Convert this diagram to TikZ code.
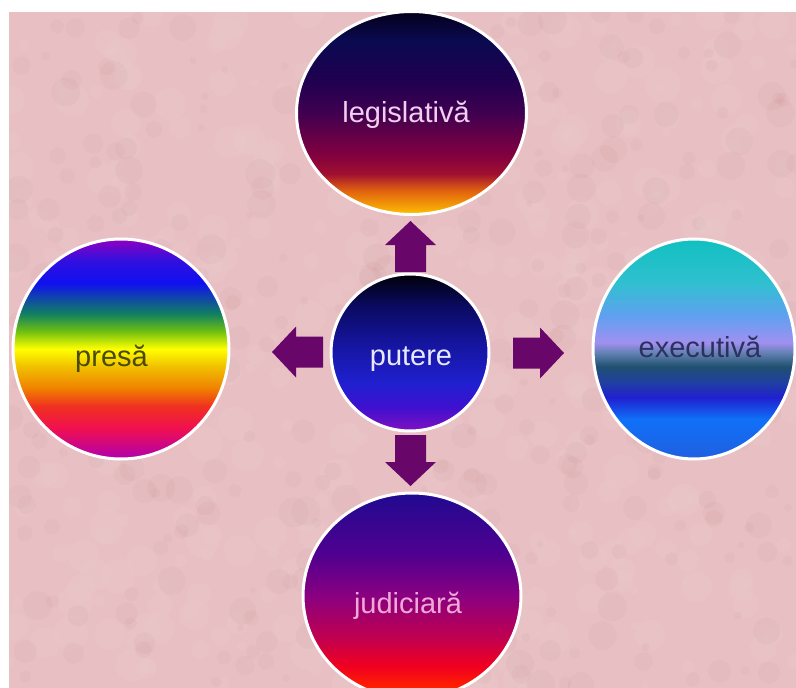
\documentclass[tikz,border=0pt]{standalone}
\usepackage{fontspec}
\setmainfont{Liberation Sans}
\usetikzlibrary{shapes.geometric,calc}
\definecolor{bgpink}{RGB}{232,192,195}
\definecolor{arrowc}{RGB}{104,6,106}
% legislativa
\definecolor{lg1}{RGB}{255,192,0}
\definecolor{lg2}{RGB}{224,96,16}
\definecolor{lg3}{RGB}{160,16,48}
\definecolor{lg4}{RGB}{128,0,64}
\definecolor{lg5}{RGB}{64,0,80}
\definecolor{lg6}{RGB}{32,0,80}
\definecolor{lg7}{RGB}{10,10,80}
\definecolor{lg8}{RGB}{5,0,26}
% presa
\definecolor{pr1}{RGB}{176,0,176}
\definecolor{pr2}{RGB}{240,16,80}
\definecolor{pr3}{RGB}{240,48,32}
\definecolor{pr4}{RGB}{240,128,0}
\definecolor{pr5}{RGB}{240,192,0}
\definecolor{pr6}{RGB}{255,255,0}
\definecolor{pr7}{RGB}{112,192,16}
\definecolor{pr8}{RGB}{16,128,96}
\definecolor{pr9}{RGB}{16,16,240}
\definecolor{pr10}{RGB}{48,16,224}
\definecolor{pr11}{RGB}{144,0,192}
% executiva
\definecolor{ex1}{RGB}{32,96,224}
\definecolor{ex2}{RGB}{16,112,248}
\definecolor{ex3}{RGB}{32,32,208}
\definecolor{ex4}{RGB}{32,64,160}
\definecolor{ex5}{RGB}{32,80,112}
\definecolor{ex6}{RGB}{96,128,176}
\definecolor{ex7}{RGB}{160,144,240}
\definecolor{ex8}{RGB}{96,160,240}
\definecolor{ex9}{RGB}{48,192,208}
\definecolor{ex10}{RGB}{16,192,192}
% putere
\definecolor{pu1}{RGB}{128,16,192}
\definecolor{pu2}{RGB}{64,16,208}
\definecolor{pu3}{RGB}{32,32,208}
\definecolor{pu4}{RGB}{21,21,160}
\definecolor{pu5}{RGB}{10,10,96}
\definecolor{pu6}{RGB}{0,0,8}
% judiciara
\definecolor{ju1}{RGB}{255,96,0}
\definecolor{ju2}{RGB}{255,32,0}
\definecolor{ju3}{RGB}{240,0,32}
\definecolor{ju4}{RGB}{192,0,80}
\definecolor{ju5}{RGB}{138,0,128}
\definecolor{ju6}{RGB}{80,0,144}
\definecolor{ju7}{RGB}{32,10,144}
% label colours
\definecolor{tlegc}{RGB}{240,208,240}
\definecolor{tprec}{RGB}{74,74,0}
\definecolor{texec}{RGB}{46,48,96}
\definecolor{tputc}{RGB}{232,232,255}
\definecolor{tjudc}{RGB}{240,168,216}
\pgfdeclareverticalshading{legsh}{100bp}{color(0bp)=(lg1); color(25bp)=(lg1); color(31bp)=(lg2); color(35bp)=(lg3); color(40bp)=(lg4); color(50bp)=(lg5); color(58bp)=(lg6); color(68bp)=(lg7); color(75bp)=(lg8); color(100bp)=(lg8)}
\pgfdeclareverticalshading{presh}{100bp}{color(0bp)=(pr1); color(25bp)=(pr1); color(32bp)=(pr2); color(37bp)=(pr3); color(41bp)=(pr4); color(46bp)=(pr5); color(50bp)=(pr6); color(54bp)=(pr7); color(58bp)=(pr8); color(65bp)=(pr9); color(70bp)=(pr10); color(75bp)=(pr11); color(100bp)=(pr11)}
\pgfdeclareverticalshading{exesh}{100bp}{color(0bp)=(ex1); color(25bp)=(ex1); color(34bp)=(ex2); color(39bp)=(ex3); color(42.5bp)=(ex4); color(46bp)=(ex5); color(49bp)=(ex6); color(51.5bp)=(ex7); color(57.5bp)=(ex8); color(65bp)=(ex9); color(75bp)=(ex10); color(100bp)=(ex10)}
\pgfdeclareverticalshading{putsh}{100bp}{color(0bp)=(pu1); color(25bp)=(pu1); color(32.5bp)=(pu2); color(40bp)=(pu3); color(52.5bp)=(pu4); color(65bp)=(pu5); color(75bp)=(pu6); color(100bp)=(pu6)}
\pgfdeclareverticalshading{judsh}{100bp}{color(0bp)=(ju1); color(25bp)=(ju1); color(28bp)=(ju2); color(33bp)=(ju3); color(40bp)=(ju4); color(50bp)=(ju5); color(60bp)=(ju6); color(75bp)=(ju7); color(100bp)=(ju7)}
\tikzset{
 disc/.style={ellipse, draw=white, line width=3pt, inner sep=0pt},
 lbl/.style={anchor=base, font=\fontsize{29}{34}\selectfont, inner sep=0pt},
 blockarrow/.pic={\fill[arrowc] (0,-15.5) -- (27,-15.5) -- (27,-25.5) -- (51,0) -- (27,25.5) -- (27,15.5) -- (0,15.5) -- cycle;}
}
\begin{document}
\begin{tikzpicture}[x=1pt,y=-1pt]
\useasboundingbox (0,0) rectangle (796,688);
\fill[white] (0,0) rectangle (796,688);
\fill[bgpink] (9,12) rectangle (796,688);
\begin{scope}
\clip (9,12) rectangle (796,688);
\pgfmathsetseed{7}
\foreach \i in {1,...,420}{
 \pgfmathsetmacro\xx{9+rnd*787}
 \pgfmathsetmacro\yy{12+rnd*676}
 \pgfmathsetmacro\rr{4+rnd*14}
 \fill[white,opacity=0.035] (\xx,\yy) circle (\rr);
}
\foreach \i in {1,...,380}{
 \pgfmathsetmacro\xx{9+rnd*787}
 \pgfmathsetmacro\yy{12+rnd*676}
 \pgfmathsetmacro\rr{3+rnd*12}
 \fill[black!60!red,opacity=0.025] (\xx,\yy) circle (\rr);
}
\end{scope}
% circles
\node[disc, shading=legsh, minimum width=230pt, minimum height=203pt] (leg) at (411.5,113) {};
\node[disc, shading=presh, minimum width=216pt, minimum height=220pt] (pre) at (121,349) {};
\node[disc, shading=exesh, minimum width=202pt, minimum height=220pt] (exe) at (694,349) {};
\node[disc, shading=putsh, minimum width=158pt, minimum height=157pt] (put) at (410,352.5) {};
\node[disc, shading=judsh, minimum width=218pt, minimum height=206pt] (jud) at (412,596) {};
% labels
\node[lbl, text=tlegc] (tleg) at (406,122) {legislativă};
\node[lbl, text=tprec] (tpre) at (111.5,366) {presă};
\node[lbl, text=texec] (texe) at (700,357) {executivă};
\node[lbl, text=tputc] (tput) at (411,365) {putere};
\node[lbl, text=tjudc] (tjud) at (408,613) {judiciară};
% arrows
\coordinate (bup) at (410.5,272);
\coordinate (bdn) at (410.5,435);
\coordinate (brt) at (513,353);
\coordinate (blt) at (323,352);
\pic[rotate=90] at (bup) {blockarrow};
\pic[rotate=-90] at (bdn) {blockarrow};
\pic at (brt) {blockarrow};
\pic[rotate=180] at (blt) {blockarrow};
\end{tikzpicture}
\end{document}
